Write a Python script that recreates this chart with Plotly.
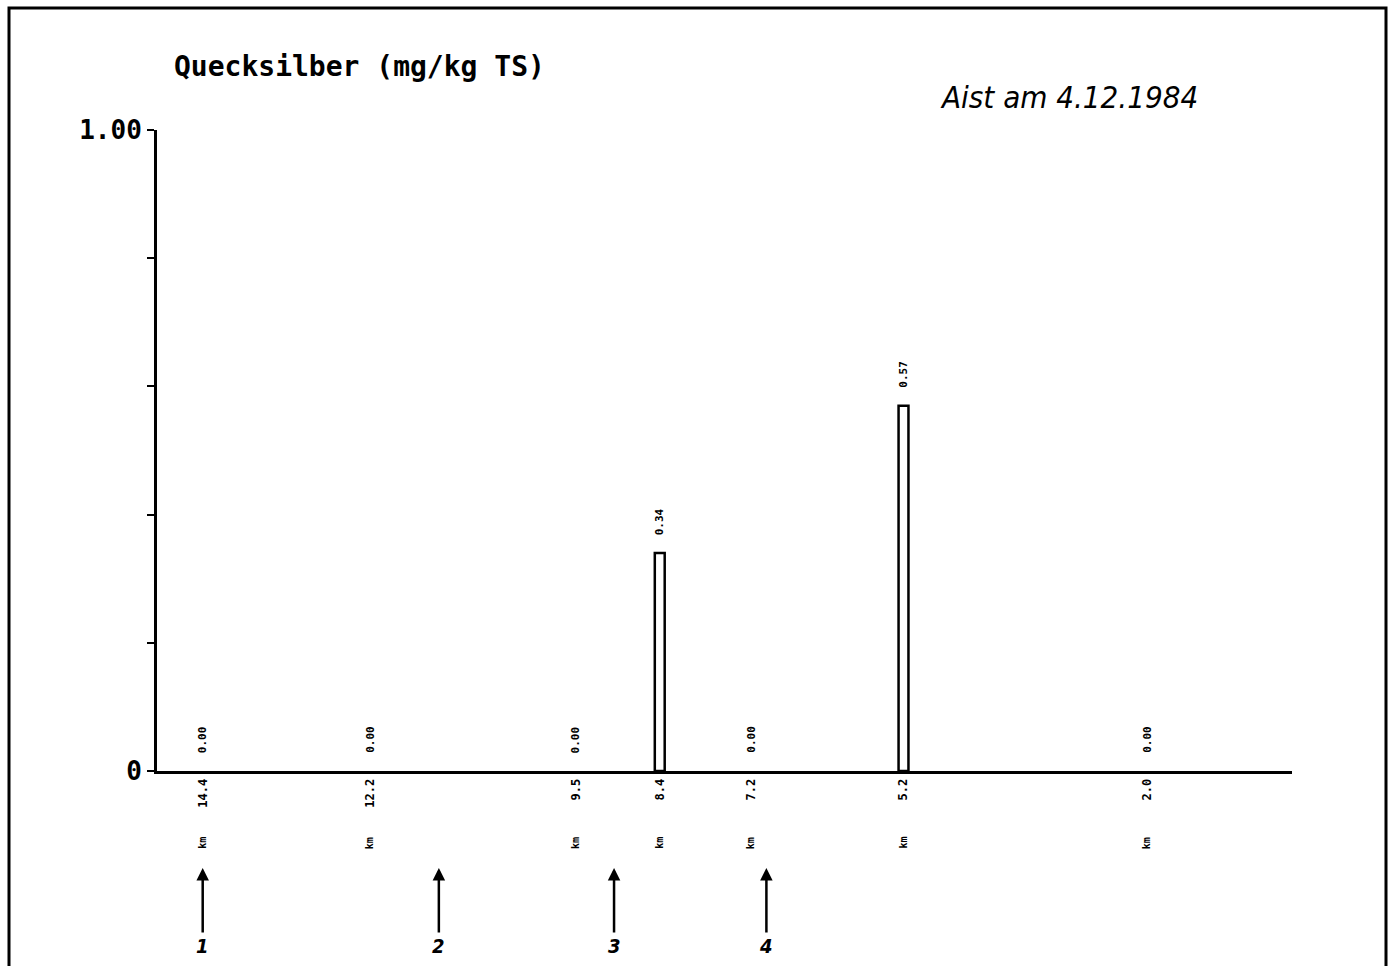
import plotly.graph_objects as go

# Data
km_positions = [14.4, 12.2, 9.5, 8.4, 7.2, 5.2, 2.0]
km_labels = ["14.4", "12.2", "9.5", "8.4", "7.2", "5.2", "2.0"]
mercury = [0.00, 0.00, 0.00, 0.34, 0.00, 0.57, 0.00]
value_labels = ["0.00", "0.00", "0.00", "0.34", "0.00", "0.57", "0.00"]
station_km = [14.4, 11.3, 9.0, 7.0]
station_names = ["1", "2", "3", "4"]
y_ticks = [0, 0.2, 0.4, 0.6, 0.8, 1.0]
y_ticktext = ["0", "", "", "", "", "1.00"]

W, H = 1390, 966
L, T = 157, 130
R = W - 1292
B = H - 771
pw, ph = W - L - R, H - T - B

def px_x(px):
    return (px - L) / pw

def px_y(py):
    return (H - B - py) / ph

fig = go.Figure()
fig.add_trace(go.Bar(
    x=km_positions, y=mercury, width=0.13,
    marker=dict(color="white",
                line=dict(color="black", width=[2.5 if v > 0 else 0 for v in mercury])),
    hoverinfo="skip", showlegend=False,
))

ann = []
for xv, yv, t in zip(km_positions, mercury, value_labels):
    ann.append(dict(x=xv, y=yv, xref="x", yref="y", text=t, showarrow=False,
                    textangle=-90, yanchor="bottom", yshift=16,
                    font=dict(family="DejaVu Sans Mono", size=11, color="black", weight="bold")))
    ann.append(dict(x=xv, y=px_y(851), xref="x", yref="paper", text="km", showarrow=False,
                    textangle=-90, font=dict(family="DejaVu Sans Mono", size=10, color="black", weight="bold")))

for xv, t in zip(station_km, station_names):
    ann.append(dict(x=xv, y=px_y(868), xref="x", yref="paper", text=t, showarrow=True,
                    ax=0, ay=78, axref="pixel", ayref="pixel",
                    arrowhead=2, arrowsize=1, arrowwidth=2.5, arrowcolor="black",
                    font=dict(family="DejaVu Sans Condensed", size=20, color="black",
                              style="italic", weight="bold")))

ann.append(dict(x=px_x(172), y=px_y(67), xref="paper", yref="paper",
                text="Quecksilber (mg/kg TS)", showarrow=False, xanchor="left", yanchor="middle",
                font=dict(family="DejaVu Sans Mono", size=28, color="black", weight="bold")))
ann.append(dict(x=px_x(938), y=px_y(97), xref="paper", yref="paper",
                text="Aist am 4.12.1984", showarrow=False, xanchor="left", yanchor="middle",
                font=dict(family="DejaVu Sans Condensed", size=31, color="black", style="italic")))

frame = dict(type="path", xref="paper", yref="paper",
             path=f"M {px_x(9)} {px_y(975)} L {px_x(9)} {px_y(8)} L {px_x(1386)} {px_y(8)} L {px_x(1386)} {px_y(975)}",
             line=dict(color="black", width=3))

fig.update_layout(
    width=W, height=H,
    margin=dict(l=L, r=R, t=T, b=B, autoexpand=False),
    paper_bgcolor="white", plot_bgcolor="white",
    annotations=ann, shapes=[frame], showlegend=False,
    xaxis=dict(range=[15.0, 0.1], tickmode="array", tickvals=km_positions, ticktext=km_labels,
               tickangle=-90, ticks="", showgrid=False, zeroline=False,
               showline=True, linecolor="black", linewidth=3,
               tickfont=dict(family="DejaVu Sans Mono", size=12, color="black", weight="bold")),
    yaxis=dict(range=[0, 1.0], tickmode="array", tickvals=y_ticks, ticktext=y_ticktext,
               ticks="outside", ticklen=7, tickwidth=2, tickcolor="black",
               showgrid=False, zeroline=False, showline=True, linecolor="black", linewidth=3,
               tickfont=dict(family="DejaVu Sans Mono", size=26, color="black", weight="bold")),
)

fig.write_html("out.html", config={"displayModeBar": False},
               post_script="document.body.style.margin='0';document.body.style.overflow='hidden';")
